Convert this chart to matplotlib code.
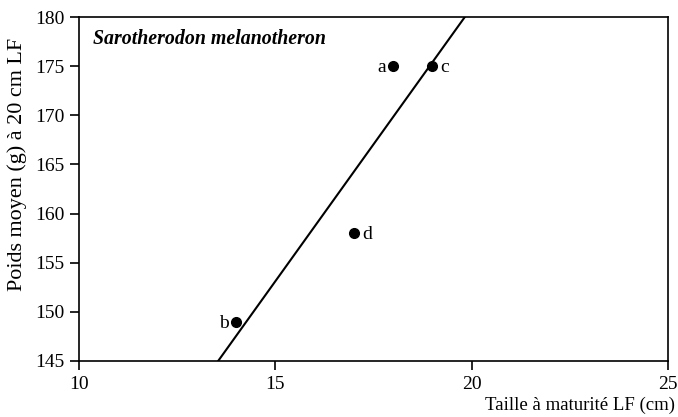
import matplotlib.pyplot as plt
import numpy as np

# taille à maturité (cm) et poids moyen à 20 cm LF (g)
labels = ['a', 'c', 'd', 'b']
taille = [18, 19, 17, 14]
poids = [175, 175, 158, 149]
label_side = ['left', 'right', 'right', 'left']

plt.rcParams['font.family'] = 'Liberation Serif'
plt.rcParams['font.size'] = 14

fig = plt.figure(figsize=(6.78, 4.17), dpi=100)
ax = fig.add_axes([0.1165, 0.1343, 0.8685, 0.8247])

# droite de régression
slope, intercept = np.polyfit(taille, poids, 1)
xl = np.array([(145 - intercept) / slope, (180 - intercept) / slope])
ax.plot(xl, intercept + slope * xl, color='black', linewidth=1.5)

ax.plot(taille, poids, 'o', color='black', markersize=7)
for lab, x, y, side in zip(labels, taille, poids, label_side):
    if side == 'left':
        ax.annotate(lab, (x, y), xytext=(-5, -1), textcoords='offset points',
                    ha='right', va='center', fontsize=14)
    else:
        ax.annotate(lab, (x, y), xytext=(6, -1), textcoords='offset points',
                    ha='left', va='center', fontsize=14)

ax.set_xlim(10, 25)
ax.set_ylim(145, 180)
ax.set_xticks([10, 15, 20, 25])
ax.set_yticks(range(145, 181, 5))
ax.tick_params(direction='out', length=6.5, width=1.2, labelsize=14, pad=4)
for s in ax.spines.values():
    s.set_linewidth(1.2)

ax.text(0.024, 0.965, 'Sarotherodon melanotheron', transform=ax.transAxes,
        fontsize=14.3, fontweight='bold', fontstyle='italic', va='top', ha='left')

ax.set_xlabel('Taille à maturité LF (cm)', fontsize=13.5, ha='right', va='center')
ax.xaxis.set_label_coords(1.013, -0.13)
ax.set_ylabel('Poids moyen (g) à 20 cm LF', fontsize=15.9, va='center')
ax.yaxis.set_label_coords(-0.105, 0.573)

plt.savefig('out.png', dpi=100)
